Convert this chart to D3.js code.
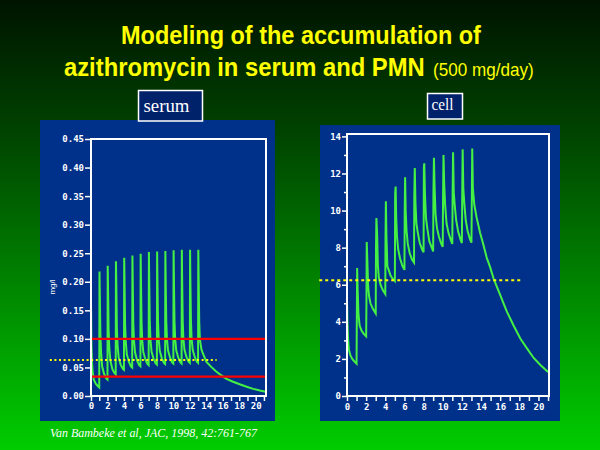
<!DOCTYPE html>
<html><head><meta charset="utf-8">
<script src="https://cdn.jsdelivr.net/npm/d3@7/dist/d3.min.js"></script>
<style>html,body{margin:0;padding:0;background:#000}svg{display:block}</style>
</head><body>
<script>
// ---------- data ----------
const titleLines = ["Modeling of the accumulation of", "azithromycin in serum and PMN"];
const titleNote = "(500 mg/day)";
const panelLabels = ["serum", "cell"];
const citation = "Van Bambeke et al, JAC, 1998, 42:761-767";
const serumYLabel = "mg/l";

const dayTicks = [0,1,2,3,4,5,6,7,8,9,10,11,12,13,14,15,16,17,18,19,20,21];
const dayLabels = [0,2,4,6,8,10,12,14,16,18,20];
const serumYTicks = [0,0.05,0.10,0.15,0.20,0.25,0.30,0.35,0.40,0.45];
const cellYMajor = [0,2,4,6,8,10,12,14];
const cellYMinor = [1,3,5,7,9,11,13];

const serumLimits = [0.10, 0.034];      // red lines
const serumRef = {value: 0.063, from: -5, to: 15.25};   // yellow dotted
const cellRef = {value: 6.24, from: -2.9, to: 18.15};   // yellow dotted

// serum concentration (mg/l) vs day
const serumPoints = [
 [0,0.168],[0.05,0.09],[0.12,0.06],[0.2,0.042],[0.35,0.028],[0.6,0.021],[0.85,0.017],[1.0,0.015],
 [1.03,0.218],[1.08,0.17],[1.14,0.11],[1.22,0.078],[1.35,0.052],[1.6,0.038],[1.85,0.031],[2.0,0.029],
 [2.03,0.228],[2.08,0.18],[2.14,0.115],[2.22,0.085],[2.35,0.062],[2.6,0.047],[2.85,0.040],[3.0,0.038],
 [3.03,0.236],[3.08,0.19],[3.14,0.12],[3.22,0.09],[3.35,0.068],[3.6,0.055],[3.85,0.048],[4.0,0.046],
 [4.03,0.242],[4.08,0.19],[4.14,0.125],[4.22,0.095],[4.35,0.073],[4.6,0.060],[4.85,0.052],[5.0,0.050],
 [5.03,0.246],[5.08,0.19],[5.14,0.125],[5.22,0.097],[5.35,0.076],[5.6,0.062],[5.85,0.054],[6.0,0.052],
 [6.03,0.249],[6.08,0.19],[6.14,0.128],[6.22,0.098],[6.35,0.077],[6.6,0.064],[6.85,0.056],[7.0,0.054],
 [7.03,0.252],[7.08,0.19],[7.14,0.128],[7.22,0.099],[7.35,0.078],[7.6,0.065],[7.85,0.057],[8.0,0.055],
 [8.03,0.253],[8.08,0.19],[8.14,0.13],[8.22,0.1],[8.35,0.079],[8.6,0.066],[8.85,0.058],[9.0,0.056],
 [9.03,0.254],[9.08,0.19],[9.14,0.13],[9.22,0.1],[9.35,0.08],[9.6,0.067],[9.85,0.059],[10.0,0.057],
 [10.03,0.255],[10.08,0.19],[10.14,0.13],[10.22,0.1],[10.35,0.08],[10.6,0.067],[10.85,0.059],[11.0,0.057],
 [11.03,0.256],[11.08,0.19],[11.14,0.13],[11.22,0.1],[11.35,0.081],[11.6,0.068],[11.85,0.06],[12.0,0.058],
 [12.03,0.256],[12.08,0.19],[12.14,0.13],[12.22,0.1],[12.35,0.081],[12.6,0.068],[12.85,0.06],[13.0,0.058],
 [13.03,0.256],[13.08,0.2],[13.14,0.13],[13.22,0.1],[13.4,0.082],[13.6,0.074],[14.0,0.060],[14.6,0.051],
 [15.2,0.043],[15.85,0.036],[16.45,0.030],[17.25,0.025],[18.05,0.0205],[18.9,0.0163],[19.7,0.0125],
 [20.5,0.0095],[21.2,0.0075]
];

// cell (PMN) concentration vs day
const cellPoints = [
 [0,5.2],[0.05,3.9],[0.12,3.0],[0.2,2.5],[0.35,2.2],[0.55,2.0],[0.8,1.85],[1.0,1.75],
 [1.02,3.7],[1.06,6.9],[1.12,5.6],[1.2,4.4],[1.32,3.8],[1.5,3.55],[1.75,3.35],[2.0,3.22],
 [2.03,5.0],[2.06,8.3],[2.12,7.4],[2.2,6.0],[2.3,5.4],[2.45,5.0],[2.7,4.7],[3.0,4.45],
 [3.03,8.0],[3.07,9.6],[3.15,8.7],[3.22,7.1],[3.32,6.4],[3.5,6.0],[3.75,5.7],[4.0,5.5],
 [4.02,8.3],[4.06,10.5],[4.12,8.6],[4.22,7.0],[4.35,6.8],[4.55,6.5],[4.8,6.3],[5.0,6.2],
 [5.03,10.9],[5.08,11.3],[5.14,9.6],[5.22,8.6],[5.35,7.9],[5.55,7.4],[5.8,7.0],[6.0,6.8],
 [6.03,10.0],[6.07,11.8],[6.13,10.0],[6.22,8.9],[6.35,8.2],[6.55,7.7],[6.8,7.35],[7.0,7.2],
 [7.03,10.8],[7.08,12.3],[7.15,10.4],[7.25,9.3],[7.4,8.8],[7.6,8.25],[7.85,7.9],[8.0,7.75],
 [8.03,12.3],[8.07,12.55],[8.15,10.8],[8.25,9.6],[8.4,9.0],[8.6,8.35],[8.85,8.0],[9.0,7.8],
 [9.03,11.0],[9.08,12.85],[9.15,11.3],[9.25,9.8],[9.4,9.05],[9.6,8.6],[9.85,8.2],[10.0,8.05],
 [10.03,10.5],[10.08,13.0],[10.15,11.5],[10.25,10.3],[10.4,9.3],[10.6,8.8],[10.85,8.4],[11.0,8.2],
 [11.03,10.8],[11.08,13.15],[11.15,11.0],[11.25,10.3],[11.4,9.5],[11.6,8.9],[11.85,8.45],[12.0,8.25],
 [12.03,10.5],[12.08,13.3],[12.15,11.2],[12.25,10.4],[12.4,9.5],[12.6,8.9],[12.85,8.45],[13.0,8.27],
 [13.03,10.0],[13.08,13.35],[13.15,11.2],[13.3,10.3],[13.55,9.6],[13.9,8.8],[14.25,8.15],[14.6,7.45],
 [14.95,6.95],[15.3,6.35],[15.65,5.9],[16.0,5.45],[16.35,5.0],[16.7,4.55],[17.4,3.8],[18.1,3.1],
 [18.8,2.57],[19.5,2.05],[20.2,1.67],[21.0,1.3]
];

// ---------- drawing ----------
const W = 600, H = 450;
const svg = d3.select("body").append("svg").attr("width", W).attr("height", H);

const defs = svg.append("defs");
const grad = defs.append("linearGradient").attr("id","bg").attr("x1",0).attr("y1",0).attr("x2",0).attr("y2",1);
grad.append("stop").attr("offset","0%").attr("stop-color","#001400");
grad.append("stop").attr("offset","30%").attr("stop-color","#004400");
grad.append("stop").attr("offset","100%").attr("stop-color","#00cc00");
svg.append("rect").attr("width",W).attr("height",H).attr("fill","url(#bg)");

// title (horizontally condensed via transform)
const title = svg.append("g").attr("fill","#ffff00").attr("font-family","'Liberation Sans', Arial, sans-serif").attr("font-weight","bold");
title.append("text").attr("transform","translate(121,44) scale(0.903,1)").attr("font-size",26).text(titleLines[0]);
title.append("text").attr("transform","translate(64,76) scale(0.915,1)").attr("font-size",26).text(titleLines[1]);
title.append("text").attr("transform","translate(433,76) scale(0.95,1)").attr("font-size",18).attr("font-weight","normal").text(titleNote);

const BLUE = "#00318a";
const GREEN = "#44f044";

// panels
svg.append("rect").attr("x",40).attr("y",120).attr("width",235).attr("height",301).attr("fill",BLUE);
svg.append("rect").attr("x",320).attr("y",125).attr("width",240).attr("height",296).attr("fill",BLUE);

// label boxes
function labelBox(x,y,w,h,txt,fs,tl,bx){
  svg.append("rect").attr("x",x).attr("y",y).attr("width",w).attr("height",h)
    .attr("fill","#00226b").attr("stroke","#ffffff").attr("stroke-width",1.5);
  svg.append("text").attr("x",bx).attr("y",y+h-9).attr("fill","#fff")
    .attr("font-family","'Liberation Serif','Times New Roman',serif").attr("font-size",fs)
    .attr("textLength",tl).attr("lengthAdjust","spacingAndGlyphs").text(txt);
}
labelBox(138.5,90.5,64,30.5,panelLabels[0],19,46,143.5);
labelBox(427.5,93.5,35,25.5,panelLabels[1],17,22,431.5);

// citation
svg.append("text").attr("x",50).attr("y",437).attr("fill","#fff")
  .attr("font-family","'Liberation Serif','Times New Roman',serif").attr("font-style","italic")
  .attr("font-size",12.5).attr("textLength",207).attr("lengthAdjust","spacingAndGlyphs").text(citation);

const tickFont = "'DejaVu Sans Mono', monospace";
function styleAxis(g){
  g.select(".domain").remove();
  g.selectAll("line").attr("stroke","#fff").attr("stroke-width",1.5);
  g.selectAll("text").attr("fill","#fff").attr("font-family",tickFont).attr("font-weight","bold").attr("font-size",9);
}

// ----- serum panel -----
const xs = d3.scaleLinear().domain([0,21.25]).range([91,266]);
const ys = d3.scaleLinear().domain([0,0.45]).range([396,139]);

svg.append("g").attr("transform","translate(0,396)")
  .call(d3.axisBottom(xs).tickValues(dayTicks).tickSize(5).tickPadding(2)
    .tickFormat(d => dayLabels.includes(d) ? d : ""))
  .call(styleAxis);
svg.append("g").attr("transform","translate(91,0)")
  .call(d3.axisLeft(ys).tickValues(serumYTicks).tickSize(6).tickPadding(1).tickFormat(d3.format(".2f")))
  .call(styleAxis);

svg.append("text").attr("transform","translate(55,287) rotate(-90)").attr("text-anchor","middle")
  .attr("fill","#fff").attr("font-family","'Liberation Sans',Arial,sans-serif").attr("font-size",8).text(serumYLabel);

const serumLine = d3.line().x(d => xs(d[0])).y(d => ys(d[1]));
svg.append("path").datum(serumPoints).attr("d",serumLine).attr("fill","none")
  .attr("stroke",GREEN).attr("stroke-width",2).attr("stroke-linejoin","miter");

svg.selectAll(".redline").data(serumLimits).enter().append("line")
  .attr("x1",xs(0)).attr("x2",xs(21.25)).attr("y1",d=>ys(d)).attr("y2",d=>ys(d))
  .attr("stroke","#ff0000").attr("stroke-width",2.2);

svg.append("line").attr("x1",xs(serumRef.from)).attr("x2",xs(serumRef.to))
  .attr("y1",ys(serumRef.value)).attr("y2",ys(serumRef.value))
  .attr("stroke","#ffff00").attr("stroke-width",2).attr("stroke-dasharray","2,2.6");

svg.append("rect").attr("x",91).attr("y",139).attr("width",175).attr("height",257)
  .attr("fill","none").attr("stroke","#fff").attr("stroke-width",2);

// ----- cell panel -----
const xc = d3.scaleLinear().domain([0,21.1]).range([347,549]);
const yc = d3.scaleLinear().domain([0,14.13]).range([396,134]);

svg.append("g").attr("transform","translate(0,396)")
  .call(d3.axisBottom(xc).tickValues(dayTicks).tickSize(5).tickPadding(3)
    .tickFormat(d => dayLabels.includes(d) ? d : ""))
  .call(styleAxis);
svg.append("g").attr("transform","translate(347,0)")
  .call(d3.axisLeft(yc).tickValues(cellYMajor).tickSize(5).tickPadding(1))
  .call(styleAxis);
svg.append("g").attr("transform","translate(347,0)")
  .call(d3.axisLeft(yc).tickValues(cellYMinor).tickSize(3).tickFormat(""))
  .call(styleAxis);

const cellLine = d3.line().x(d => xc(d[0])).y(d => yc(d[1]));
svg.append("path").datum(cellPoints).attr("d",cellLine).attr("fill","none")
  .attr("stroke",GREEN).attr("stroke-width",2);

svg.append("line").attr("x1",xc(cellRef.from)).attr("x2",xc(cellRef.to))
  .attr("y1",yc(cellRef.value)).attr("y2",yc(cellRef.value))
  .attr("stroke","#ffff00").attr("stroke-width",2).attr("stroke-dasharray","3,3");

svg.append("rect").attr("x",347).attr("y",134).attr("width",202).attr("height",262)
  .attr("fill","none").attr("stroke","#fff").attr("stroke-width",2);
</script>
</body></html>
